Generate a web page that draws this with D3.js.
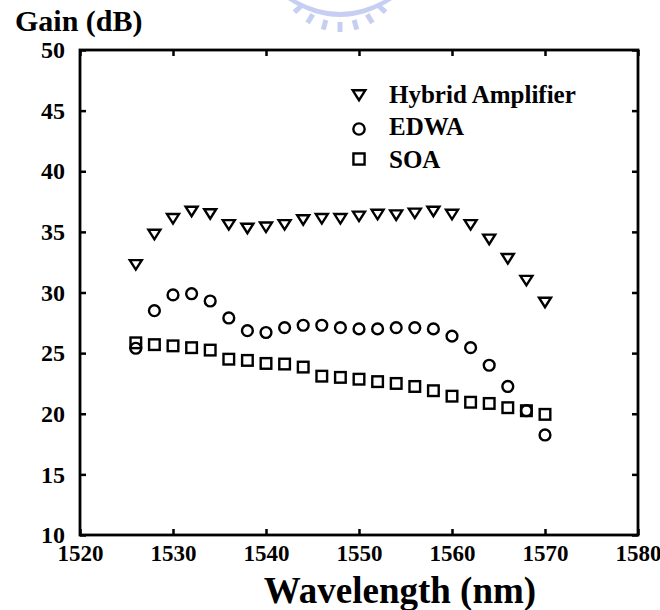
<!DOCTYPE html>
<html><head><meta charset="utf-8">
<script src="https://cdn.jsdelivr.net/npm/d3@7"></script>
<style>body{margin:0;background:#fff}svg text{font-family:"Liberation Serif","Times New Roman",serif;font-weight:bold;fill:#000}</style>
</head><body>
<svg id="c" width="660" height="610"></svg>
<script>
const wavelengths = [1526,1528,1530,1532,1534,1536,1538,1540,1542,1544,1546,1548,1550,1552,1554,1556,1558,1560,1562,1564,1566,1568,1570];
const hybrid = [32.3,34.8,36.1,36.7,36.5,35.6,35.3,35.4,35.6,36.0,36.1,36.1,36.3,36.45,36.4,36.55,36.7,36.45,35.6,34.4,32.8,31.0,29.2];
const edwa   = [25.4,28.5,29.8,29.9,29.3,27.9,26.85,26.7,27.1,27.3,27.3,27.1,27.0,27.0,27.1,27.1,27.0,26.4,25.45,24.0,22.25,20.25,18.25];
const soa    = [25.85,25.7,25.6,25.45,25.25,24.5,24.4,24.15,24.1,23.85,23.1,23.0,22.85,22.65,22.5,22.25,21.9,21.45,20.95,20.85,20.5,20.25,19.95];
const xTicks = [1520,1530,1540,1550,1560,1570,1580];
const yTicks = [10,15,20,25,30,35,40,45,50];
const seriesNames = ["Hybrid Amplifier","EDWA","SOA"];
const seriesShapes = ["triangle","circle","square"];

const svg = d3.select("#c");
const L = 80, R = 638, T = 50, B = 535;
const x = d3.scaleLinear().domain([1520,1580]).range([L,R]);
const y = d3.scaleLinear().domain([10,50]).range([B,T]);

// faint watermark at top
const wm = svg.append("g").attr("fill","#b8c4ee").attr("opacity",0.8);
wm.append("path").attr("d","M288,0 Q340,34 392,0 L384,0 Q340,24 296,0 Z");
for(let i=0;i<9;i++){
  const a = Math.PI*(0.15+0.7*i/8);
  const cx=340, cy=-30;
  const x1=cx-Math.cos(a)*52, y1=cy+Math.sin(a)*52;
  const x2=cx-Math.cos(a)*62, y2=cy+Math.sin(a)*62;
  wm.append("line").attr("x1",x1).attr("y1",y1).attr("x2",x2).attr("y2",y2).attr("stroke","#b8c4ee").attr("stroke-width",5);
}

const tl = 6;
const axB = d3.axisBottom(x).tickValues(xTicks).tickSize(-tl).tickPadding(10).tickFormat(d3.format("d"));
const axT = d3.axisTop(x).tickValues(xTicks).tickSize(-tl).tickFormat("");
const axL = d3.axisLeft(y).tickValues(yTicks).tickSize(-tl).tickPadding(15).tickFormat(d3.format("d"));
const axR = d3.axisRight(y).tickValues(yTicks).tickSize(-tl).tickFormat("");

function style(fs){ return g=>{ g.select(".domain").remove(); g.selectAll(".tick line").attr("stroke","#000").attr("stroke-width",2.5); g.selectAll("text").style("font-size",fs+"px"); }; }
svg.append("g").attr("transform",`translate(0,${B})`).call(axB).call(style(23)).selectAll("text").attr("dy","0.71em");
svg.append("g").attr("transform",`translate(0,${T})`).call(axT).call(style(23));
svg.append("g").attr("transform",`translate(${L},0)`).call(axL).call(style(24));
svg.append("g").attr("transform",`translate(${R},0)`).call(axR).call(style(24));

svg.append("rect").attr("x",L).attr("y",T).attr("width",R-L).attr("height",B-T)
  .attr("fill","none").attr("stroke","#000").attr("stroke-width",2.8);

svg.append("text").attr("x",15).attr("y",31).style("font-size","30px").text("Gain (dB)");
svg.append("text").attr("x",400).attr("y",603).attr("text-anchor","middle").style("font-size","37px").text("Wavelength (nm)");

function marker(g, shape, s){
  s = s || 1;
  if(shape==="triangle") g.append("path").attr("d",`M${-6*s},${-4.5*s} L${6*s},${-4.5*s} L0,${5*s} Z`);
  else if(shape==="circle") g.append("circle").attr("r",5.4*s);
  else g.append("rect").attr("x",-5.3*s).attr("y",-5.3*s).attr("width",10.6*s).attr("height",10.6*s);
  g.selectAll("*").attr("fill","none").attr("stroke","#000").attr("stroke-width",2.4);
}

const series = [hybrid, edwa, soa];
[2,1,0].forEach(si=>{
  const g = svg.append("g");
  wavelengths.forEach((w,i)=>{
    const m = g.append("g").attr("transform",`translate(${x(w)},${y(series[si][i])})`);
    marker(m, seriesShapes[si]);
  });
});

// legend
const legY = [95,129,159];
seriesNames.forEach((n,i)=>{
  const m = svg.append("g").attr("transform",`translate(359,${legY[i]})`);
  marker(m, seriesShapes[i], 1.05);
  svg.append("text").attr("x",389).attr("y",[103,135,168][i]).style("font-size","25px").text(n);
});
</script>
</body></html>
